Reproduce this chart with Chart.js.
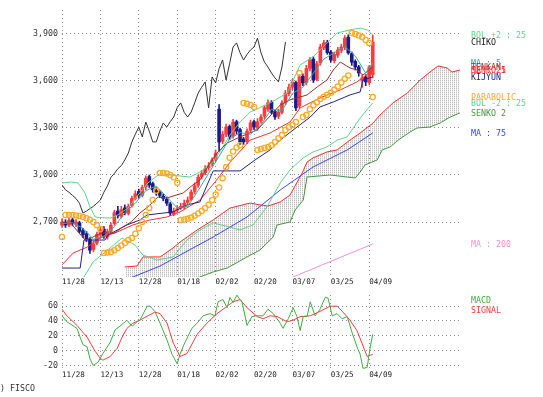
<!DOCTYPE html>
<html><head><meta charset="utf-8">
<script src="https://cdn.jsdelivr.net/npm/chart.js@4"></script>
<style>
html,body{margin:0;padding:0;background:#fff;width:543px;height:397px;overflow:hidden;position:relative}
#c1{position:absolute;left:0;top:0}
#c2{position:absolute;left:0;top:286px}
#copy{position:absolute;left:-10px;top:383px;font:8.3px 'DejaVu Sans Mono',monospace;color:#333;white-space:nowrap}
</style></head><body>
<canvas id="c1" width="543" height="292" style="width:543px;height:292px"></canvas>
<canvas id="c2" width="543" height="111" style="width:543px;height:111px"></canvas>
<div id="copy">(C) FISCO</div>
<script>
// ---------- data ----------
const tickIdx = [0, 11, 22, 33, 44, 55, 66, 77, 88];
const tickLabels = ['11/28','12/13','12/28','01/18','02/02','02/20','03/07','03/25','04/09'];
const priceTicks = [2700, 3000, 3300, 3600, 3900];
const macdTicks = [-20, 0, 20, 40, 60];

const opens = [2680,2700,2680,2715,2685,2695,2645,2625,2590,2525,2565,2615,2655,2605,2640,2690,2770,2735,2790,2755,
2805,2850,2895,2870,2925,2990,2945,2900,2890,2865,2845,2815,2750,2775,2790,2795,2825,2845,2895,2935,
2990,3015,3045,3070,3100,3420,3215,3260,3310,3250,3340,3290,3230,3215,3285,3340,3300,3345,3375,3420,
3465,3405,3375,3400,3465,3520,3560,3590,3440,3630,3590,3680,3740,3610,3715,3810,3845,3785,3730,3765,
3795,3815,3880,3775,3725,3690,3600,3625,3590,3640];
const highs = [2720,2715,2725,2730,2715,2705,2660,2640,2600,2580,2635,2665,2670,2655,2695,2775,2800,2800,2810,2815,
2865,2900,2910,2935,2995,3000,2955,2920,2900,2880,2860,2825,2790,2805,2820,2840,2860,2905,2950,3000,
3030,3060,3080,3110,3160,3450,3280,3325,3320,3355,3350,3300,3240,3295,3350,3350,3360,3385,3445,3480,
3475,3415,3420,3475,3540,3580,3610,3600,3640,3645,3700,3750,3755,3725,3835,3860,3860,3795,3785,3815,
3835,3890,3895,3785,3735,3700,3640,3640,3700,3893];
const lows = [2665,2665,2670,2675,2670,2630,2600,2575,2500,2510,2555,2600,2595,2590,2630,2680,2725,2725,2745,2745,
2795,2840,2855,2860,2905,2920,2890,2870,2855,2835,2805,2740,2740,2760,2780,2785,2815,2835,2880,2920,
2975,3000,3030,3055,3085,3150,3200,3245,3225,3235,3260,3195,3195,3200,3270,3290,3285,3330,3360,3405,
3390,3355,3360,3390,3450,3505,3545,3410,3425,3570,3575,3665,3590,3600,3700,3800,3770,3720,3715,3750,
3780,3800,3770,3700,3670,3630,3560,3570,3575,3620];
const closes = [2700,2680,2710,2690,2700,2640,2620,2590,2520,2560,2620,2650,2610,2640,2680,2760,2740,2780,2760,2800,
2850,2880,2870,2920,2980,2936,2905,2890,2870,2850,2820,2757,2770,2785,2800,2820,2840,2890,2930,2985,
3010,3040,3060,3096,3140,3210,3260,3306,3243,3338,3280,3211,3211,3280,3332,3306,3340,3370,3430,3460,
3400,3370,3402,3460,3523,3560,3594,3428,3626,3587,3680,3734,3606,3710,3817,3843,3780,3734,3770,3798,
3817,3874,3779,3720,3689,3651,3620,3594,3689,3849];
const chikoShift = 25;

const ma5X = [0,3,6,9,12,15,18,21,24,27,30,33,36,39,42,45,48,51,54,57,60,63,66,69,72,75,78,81,84,87,89];
const ma5Y = [2690,2695,2660,2590,2610,2670,2760,2820,2900,2930,2860,2790,2800,2900,3010,3120,3230,3270,3260,3320,3420,3410,3520,3560,3650,3740,3780,3820,3760,3650,3715];

const ma25X = [0,3.2,7.2,10.9,15.8,20.3,25.2,30.1,33.8,39.5,44,48.1,53.9,59.6,65.3,68.2,73.9,79.7,84.5,89];
const ma25Y = [2426,2502,2540,2598,2636,2681,2713,2732,2764,2840,2960,3080,3223,3268,3338,3428,3492,3543,3594,3670];

const tenkanX = [0,2.6,6.6,8.3,11.2,15.2,16.9,19.8,22.3,24.6,27.5,30,34.7,36.7,39.5,42.4,44.4,47.3,51,55.9,62.5,65.3,70.2,73.1,75.9,77.7,79.7,82.5,84.5,86.2,89];
const tenkanY = [2700,2690,2585,2598,2630,2630,2662,2700,2757,2796,2860,2853,2885,2923,2968,3077,3140,3204,3243,3287,3447,3479,3511,3562,3606,3670,3721,3683,3670,3638,3690];

const kijunX = [0,5.2,6.3,12.3,13.2,18.6,22.3,24.4,31.8,35.8,39.5,43.3,51,55.3,59.6,62.5,67.3,71.1,73.9,77.7,82.5,85.4,86.2,89];
const kijunY = [2406,2406,2585,2585,2617,2681,2713,2745,2764,2809,2828,3026,3026,3096,3160,3223,3306,3370,3434,3466,3511,3530,3606,3626];

const senko1X = [18,21.5,23.2,28.1,31.8,33.8,38.7,43.3,48.1,53.9,56.7,59,62.5,65.3,68.8,70.2,71.9,75.9,78.8,82.5,85.4,89.1,91.1,94.8,98.9,102.6,105.4,107.7,110.3,111.7,114];
const senko1Y = [2413,2419,2477,2477,2534,2572,2649,2713,2789,2821,2809,2802,2828,2872,3013,3083,3109,3147,3160,3223,3268,3332,3383,3460,3523,3606,3657,3696,3683,3657,3670];

const senko2X = [18,36.7,39.5,43.3,47.3,53,56.7,60.5,61.6,65.3,66.8,69.1,70.2,76.8,81.7,84,85.4,86.8,90.3,91.7,94,96.3,99.7,101.7,105.4,108.3,111.2,114];
const senko2Y = [2300,2330,2349,2381,2406,2477,2521,2604,2681,2700,2777,2840,2987,3000,2987,2981,3019,3064,3096,3160,3179,3223,3274,3300,3306,3332,3370,3396];

const ma75X = [18,20.3,28.1,33.8,43.3,53,62.5,71.9,81.7,89];
const ma75Y = [2330,2349,2419,2489,2604,2732,2904,3051,3160,3268];

const ma200X = [64, 89];
const ma200Y = [2329, 2560];

const bolUpX = [0,2.6,4.6,6.6,8,9.5,12.3,14,16,18.9,21.8,24.6,27.5,31,36.7,39.5,43.3,46.1,48.1,51,53.9,59.6,64.5,68.2,71.9,75.9,78.8,82.5,85.4,87.4,89];
const bolUpY = [2949,2955,2949,2885,2796,2732,2726,2726,2745,2789,2872,2949,3000,3000,2987,3019,3083,3179,3255,3338,3402,3460,3523,3702,3753,3843,3906,3926,3938,3926,3894];

const bolLoX = [0,5,8.9,13.8,17.2,20.9,23.2,27.2,31.8,35.8,39.5,43.3,48.1,51,54.7,58.7,62.5,65.3,69.1,71.9,75.9,78.8,81.7,85.4,89];
const bolLoY = [2200,2300,2445,2534,2598,2553,2489,2457,2477,2585,2649,2694,2668,2649,2681,2796,2949,3032,3109,3147,3179,3223,3243,3364,3460];

const sarY = [2604,2745,2745,2745,2742,2738,2732,2724,2714,2700,2680,2655,2502,2505,2508,2520,2534,2550,2566,2585,
2598,2625,2660,2700,2745,2790,2840,2900,3013,3013,3010,3000,2985,2950,2713,2716,2720,2728,2740,2755,
2770,2790,2810,2840,2875,2920,2980,3050,3110,3150,3175,3190,3460,3455,3447,3434,3160,3166,3172,3179,
3190,3211,3235,3255,3287,3305,3319,3338,3651,3370,3383,3420,3445,3465,3485,3500,3512,3525,3545,3565,
3590,3615,3635,3906,3900,3890,3880,3862,3843,3498];

const macdX = [0,1.4,4.3,5.2,6,7.2,8,8.9,10.3,11.7,13.8,15.2,16.6,18.6,20.1,21.5,22.3,24.4,25.2,26.6,28.1,30.1,31.5,33,33.8,35.2,37.2,38.7,40.4,42.4,43.8,44.7,46.1,47.3,48.1,49,50.1,51.6,53,54.4,55.9,57.6,59,60.5,62.5,63.3,64.8,66.2,67.3,68.2,69.1,70.2,71.1,72.5,73.9,75.4,76.2,77.4,78.8,80.2,81.7,83.1,84.5,85.4,86.2,87.4,88.3,89];
const macdY = [47,39,30,18,8,5,-11,-20,-16,-4,11,28,33,41,33,39,41,60,60,53,37,14,-5,-18,-5,11,30,37,47,50,47,66,69,58,72,65,75,65,34,46,47,47,56,50,37,30,43,58,46,27,46,46,66,47,56,72,71,47,50,43,46,24,5,-5,-24,-23,5,22];
const signalX = [0,1.4,4.3,7.2,9.5,10.9,11.7,13.8,15.8,17.2,18.6,20.3,22.3,24.6,26.6,28.1,30.1,31.8,33.8,35.8,38.7,41.5,44.4,47.3,49,51,53,55.9,57.6,59.6,61.6,64.5,66.2,68.2,71.1,73.9,76.8,78.8,80.5,82.5,84.5,86,87.4,89];
const signalY = [56,47,34,18,-1,-10,-13,-8,3,18,30,37,41,47,52,50,37,11,-8,-4,22,37,50,60,66,69,58,46,43,47,46,39,41,46,47,53,60,60,52,41,27,9,-8,-5];

// ---------- drawing ----------
const FONT = "'DejaVu Sans Mono', monospace";
const UP = '#ff3b3b', DOWN = '#1a1a8a';
const C = {bol:'#5fd38a', chiko:'#333333', ma5:'#36aaa8', ma25:'#ff3030', tenkan:'#9a3030', kijun:'#22228a',
  senko1:'#ff2a2a', senko2:'#3f9a3f', ma75:'#3a46f0', ma200:'#ff8ccc', sar:'#ffaa22', macd:'#3fae3f', signal:'#ff3a3a'};
const pts = (xs, ys) => xs.map((x, i) => ({x, y: ys[i]}));
const barIdx = closes.map((_, i) => i);
const candleColors = closes.map((c, i) => c >= opens[i] ? UP : DOWN);

const pc = document.createElement('canvas'); pc.width = 2; pc.height = 2;
const pctx = pc.getContext('2d');
pctx.fillStyle = '#bdbdbd'; pctx.fillRect(0, 0, 1, 1);
pctx.fillStyle = '#e4e4e4'; pctx.fillRect(0, 1, 1, 1);
const hatch = pctx.createPattern(pc, 'repeat');

function line(label, data, color, extra) {
  return Object.assign({type:'line', label, data, borderColor:color, backgroundColor:color, borderWidth:1,
    pointRadius:0, tension:0, fill:false, spanGaps:true}, extra || {});
}

function xScale(h) {
  return {
    type:'linear', min:0, max:114, offset:false,
    afterBuildTicks: s => { s.ticks = tickIdx.map(v => ({value:v})); },
    afterFit: s => { s.height = h; },
    ticks:{autoSkip:false, maxRotation:0, align:'start', padding:0, color:'#222',
      font:{family:FONT, size:7.6}, callback:(v) => tickLabels[tickIdx.indexOf(v)]},
    grid:{color:'#8a8a8a', drawTicks:false, lineWidth:1, offset:false},
    border:{display:false, dash:[1,3]}
  };
}
function yScale(min, max, ticks, fmt) {
  return {
    type:'linear', min, max,
    afterBuildTicks: s => { s.ticks = ticks.map(v => ({value:v})); },
    afterFit: s => { s.width = 62; },
    ticks:{padding:4, color:'#333', font:{family:FONT, size:8.3}, callback:fmt},
    grid:{color:'#8a8a8a', drawTicks:false, lineWidth:1},
    border:{display:false, dash:[1,3]}
  };
}

const sideLabels = {
  id:'sideLabels',
  afterDatasetsDraw(chart, args, opts) {
    const ctx = chart.ctx, ys = chart.scales.y;
    ctx.save();
    ctx.font = '8.3px ' + FONT; ctx.textBaseline = 'middle'; ctx.textAlign = 'left';
    opts.items.forEach(it => {
      let y;
      if (it.label) {
        const ds = chart.data.datasets.find(d => d.label === it.label);
        const last = ds.data[ds.data.length - 1];
        y = ys.getPixelForValue(typeof last === 'object' ? last.y : last);
      } else y = chart.chartArea.top + it.dy;
      ctx.fillStyle = it.color;
      ctx.fillText(it.text, 471, Math.round(y) + 0.5);
    });
    ctx.restore();
  }
};

new Chart(document.getElementById('c1'), {
  type:'line',
  data:{datasets:[
    line('senko1', pts(senko1X, senko1Y), C.senko1, {fill:'+1', backgroundColor:hatch, order:20}),
    line('senko2', pts(senko2X, senko2Y), C.senko2, {order:19}),
    line('ma200', pts(ma200X, ma200Y), C.ma200, {order:18}),
    line('ma75', pts(ma75X, ma75Y), C.ma75, {order:17}),
    {type:'bar', label:'wick', data:barIdx.map(i => ({x:i, y:[lows[i], highs[i]]})), backgroundColor:candleColors,
      barThickness:1, grouped:false, order:12, clip:false},
    {type:'bar', label:'body', data:barIdx.map(i => ({x:i, y:[opens[i], closes[i]]})), backgroundColor:candleColors,
      barThickness:3, grouped:false, order:11, clip:false},
    line('chiko', closes.slice(chikoShift).map((v, j) => ({x:j, y:v})), C.chiko, {order:9}),
    line('bolUp', pts(bolUpX, bolUpY), C.bol, {order:8}),
    line('bolLo', pts(bolLoX, bolLoY), C.bol, {order:8}),
    line('ma25', pts(ma25X, ma25Y), C.ma25, {order:7}),
    line('kijun', pts(kijunX, kijunY), C.kijun, {order:6}),
    line('tenkan', pts(tenkanX, tenkanY), C.tenkan, {order:5}),
    line('ma5', pts(ma5X, ma5Y), C.ma5, {order:4}),
    line('sar', barIdx.map(i => ({x:i, y:sarY[i]})), C.sar, {showLine:false, pointRadius:2.6, pointStyle:'circle',
      pointBorderColor:C.sar, pointBackgroundColor:'rgba(0,0,0,0)', pointBorderWidth:1.3, order:1, clip:false})
  ]},
  options:{
    responsive:false, animation:false, events:[],
    layout:{padding:{top:10, right:83, left:0, bottom:0}},
    plugins:{legend:{display:false}, tooltip:{enabled:false},
      sideLabels:{items:[
        {label:'bolUp', text:'BOL +2 : 25', color:C.bol},
        {label:'chiko', text:'CHIKO', color:'#222'},
        {label:'ma5', text:'MA : 5', color:C.ma5},
        {label:'tenkan', text:'TENKAN', color:C.tenkan},
        {label:'ma25', text:'MA : 25', color:C.ma25},
        {label:'senko1', text:'SENKO 1', color:C.senko1},
        {label:'kijun', text:'KIJYUN', color:C.kijun},
        {label:'sar', text:'PARABOLIC', color:C.sar},
        {label:'bolLo', text:'BOL -2 : 25', color:C.bol},
        {label:'senko2', text:'SENKO 2', color:C.senko2},
        {label:'ma75', text:'MA : 75', color:C.ma75},
        {label:'ma200', text:'MA : 200', color:C.ma200}
      ]}},
    scales:{
      x:xScale(15),
      y:yScale(2349, 4053, priceTicks, v => v.toLocaleString('en-US'))
    }
  },
  plugins:[sideLabels]
});

new Chart(document.getElementById('c2'), {
  type:'line',
  data:{datasets:[
    line('signal', pts(signalX, signalY), C.signal, {order:2}),
    line('macd', pts(macdX, macdY), C.macd, {order:1})
  ]},
  options:{
    responsive:false, animation:false, events:[],
    layout:{padding:{top:4, right:83, left:0, bottom:0}},
    plugins:{legend:{display:false}, tooltip:{enabled:false},
      sideLabels:{items:[
        {text:'MACD', color:C.macd, dy:5},
        {text:'SIGNAL', color:C.signal, dy:15}
      ]}},
    scales:{
      x:xScale(27),
      y:yScale(-26.3, 75.2, macdTicks, v => String(v))
    }
  },
  plugins:[sideLabels]
});
</script></body></html>
